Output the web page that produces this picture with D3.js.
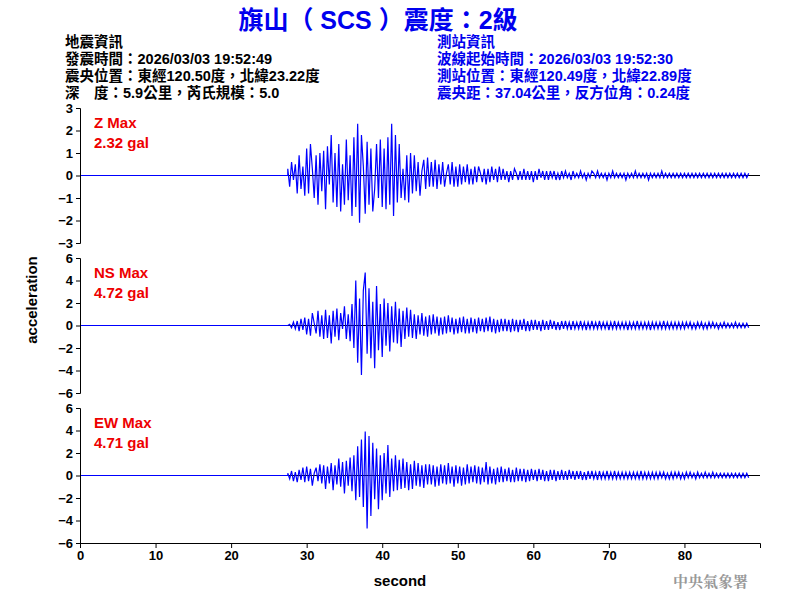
<!DOCTYPE html>
<html>
<head>
<meta charset="utf-8">
<script src="https://cdn.jsdelivr.net/npm/d3@7"></script>
<style>
body { margin: 0; background: #fff; }
text { font-family: "Liberation Sans", Arial, sans-serif; }
.cjk { font-family: "Liberation Sans", "Noto Sans CJK TC", sans-serif; }
</style>
</head>
<body>
<svg id="chart" width="800" height="600"></svg>
<script>
/*** DATA ***/
var startTime = 27.5;   // first sample, seconds
var step = 0.25;        // sample spacing, seconds

var zValues = [
  0.3,-0.5,0.6,-0.2,0.5,-0.8,0.9,-0.6,0.4,-0.9,
  1.2,-0.8,1.4,0.3,-1.0,0.9,-1.3,1.0,
  -0.7,1.1,-1.5,1.3,-0.4,1.8,-1.2,1.0,
  -1.4,1.4,-1.6,0.5,-1.3,1.6,-1.1,0.9,
  -1.8,1.7,-1.4,2.3,-2.1,1.8,0.4,-1.7,
  1.5,-1.3,1.2,-1.6,-0.6,1.4,-1.0,1.6,
  -1.4,1.2,-1.5,1.7,-1.3,2.3,-1.8,1.8,
  -1.2,1.4,-1.0,0.3,-1.1,0.9,-1.2,1.0,
  -0.8,0.9,-0.7,0.6,-0.9,0.2,0.7,-0.6,
  0.8,-0.5,0.6,-0.5,0.7,-0.6,0.5,-0.4,
  0.6,-0.5,0.1,0.5,-0.4,0.6,-0.5,0.4,
  -0.5,0.5,-0.4,0.4,-0.3,0.5,-0.4,0.3,
  -0.4,0.4,-0.3,0.4,0.1,-0.3,0.3,-0.4,
  0.3,-0.3,0.4,-0.2,0.3,-0.3,0.4,-0.2,
  0.3,-0.2,0.2,-0.3,0.2,-0.2,0.3,0.1,-0.2,0.2,-0.2,0.3,-0.2,0.2,-0.2,0.2,
  -0.3,0.2,-0.2,0.3,-0.1,0.2,-0.2,0.2,-0.2,0.2,-0.1,0.2,-0.2,0.1,-0.2,0.2,
  -0.1,0.2,-0.1,0.1,-0.2,0.2,-0.1,0.1,-0.1,0.2,-0.1,0.1,-0.2,0.1,-0.1,0.2,
  0.1,-0.1,0.2,-0.1,0.1,-0.1,0.1,-0.2,0.1,-0.1,0.2,-0.1,0.1,-0.1,0.1,-0.1,
  0.1,-0.2,0.1,-0.1,0.1,-0.1,0.2,-0.1,0.1,-0.1,0.1,-0.1,0.1,-0.2,0.1,-0.1,
  0.1,-0.1,0.1,-0.1,0.2,-0.1,0.1,-0.1,0.1,-0.1,0.1,-0.1,0.1,-0.1,0.1,-0.1,
  0.1,-0.1,0.1,-0.1,0.1,-0.1,0.1,-0.1,0.1,-0.1,0.1,-0.1,0.1,-0.1,0.1,-0.1,
  0.1,-0.1,0.1,-0.1,0.1,-0.1,0.1,-0.1,0.1,-0.1,0.1,-0.1,0.1,-0.1,0.1,-0.1,
  0.1,-0.1,0.1
];

var nsValues = [
  0.0,0.1,-0.2,0.3,-0.3,0.4,-0.5,0.6,-0.4,0.7,
  -0.8,0.6,-0.9,1.1,0.2,-0.7,1.3,-1.0,
  0.9,-1.2,1.4,-1.1,0.9,-1.6,1.3,-1.0,
  1.5,-1.3,1.1,-0.3,1.7,-1.2,1.0,-1.4,
  1.9,-2.0,4.0,-3.3,2.4,-4.4,3.1,4.7,
  -2.5,3.3,-2.9,2.1,-3.8,3.5,-2.2,1.9,
  -2.8,2.4,-1.8,2.0,-2.3,1.7,-1.5,2.1,
  -1.6,1.5,-1.9,1.3,-1.2,1.6,-1.0,1.4,
  -1.1,1.0,-1.2,0.9,-0.8,1.1,-0.9,0.8,
  -1.0,0.9,-0.8,1.0,-0.7,0.8,-0.9,0.7,
  -0.8,0.8,-0.7,0.9,-0.6,0.7,-0.8,0.6,
  -0.7,0.7,-0.6,0.8,-0.7,0.6,-0.7,0.7,
  -0.6,0.6,-0.7,0.7,-0.5,0.6,-0.6,0.7,
  -0.5,0.8,-0.6,0.6,-0.7,0.5,-0.6,0.6,
  -0.5,0.6,-0.5,0.5,-0.6,0.6,-0.5,0.5,-0.6,0.5,-0.4,0.6,-0.5,0.4,-0.5,0.5,
  -0.4,0.5,-0.4,0.4,-0.5,0.5,-0.4,0.4,-0.4,0.5,-0.3,0.4,-0.4,0.3,-0.4,0.4,
  -0.3,0.4,-0.3,0.3,-0.4,0.4,-0.3,0.3,-0.3,0.4,-0.3,0.3,-0.4,0.3,-0.3,0.4,
  -0.3,0.3,-0.3,0.4,-0.3,0.3,-0.3,0.3,-0.4,0.3,-0.3,0.4,-0.3,0.3,-0.3,0.3,
  -0.3,0.3,-0.4,0.3,-0.3,0.3,-0.3,0.4,-0.3,0.3,-0.3,0.3,-0.3,0.3,-0.4,0.3,
  -0.3,0.3,-0.3,0.3,-0.3,0.4,-0.3,0.3,-0.3,0.3,-0.3,0.3,-0.3,0.3,-0.3,0.3,
  -0.3,0.3,-0.2,0.3,-0.3,0.2,-0.3,0.3,-0.2,0.3,-0.3,0.2,-0.3,0.3,-0.2,0.3,
  -0.2,0.2,-0.3,0.2,-0.2,0.3,-0.2,0.2,-0.2,0.2,-0.2,0.3,-0.2,0.2,-0.2,0.2,
  -0.2,0.2,-0.2
];

var ewValues = [
  0.2,-0.3,0.4,-0.5,0.3,-0.6,0.5,-0.4,0.7,-0.6,
  0.8,-0.5,0.6,-0.9,0.2,0.7,-0.5,1.0,
  -0.7,0.9,-1.2,0.8,-0.7,1.1,-1.3,0.9,
  -0.8,1.5,-1.0,1.2,-1.6,1.3,-0.9,1.6,
  -1.4,1.8,-2.2,2.6,-1.9,3.2,-2.8,3.9,
  -4.7,3.5,-3.6,2.9,-2.1,2.4,-3.0,1.8,
  -2.2,2.0,-1.6,2.7,-1.9,1.5,-1.4,1.8,
  -1.3,1.4,-1.2,1.5,-1.1,1.2,-1.3,1.0,
  -1.2,1.3,-0.9,1.1,-1.0,0.9,-1.1,1.0,
  -0.8,1.0,-0.8,0.9,-1.0,0.8,-0.9,1.0,
  -0.7,0.9,-0.8,1.1,-0.7,0.8,-1.0,0.9,
  -0.7,0.8,-0.9,0.7,-0.8,1.0,-0.7,0.8,
  -0.6,0.9,-0.7,0.8,-0.8,0.7,-0.6,1.2,
  -0.8,0.8,-0.7,0.6,-0.8,0.7,-0.6,0.8,
  -0.6,0.6,-0.5,0.7,-0.6,0.5,-0.6,0.7,-0.5,0.6,-0.5,0.6,-0.6,0.5,-0.5,0.6,
  -0.4,0.5,-0.5,0.6,-0.4,0.5,-0.5,0.4,-0.5,0.5,-0.4,0.5,-0.5,0.4,-0.4,0.5,
  -0.4,0.4,-0.4,0.5,-0.3,0.4,-0.4,0.4,-0.3,0.4,-0.4,0.3,-0.4,0.4,-0.3,0.4,
  -0.3,0.3,-0.4,0.4,-0.3,0.3,-0.3,0.4,-0.3,0.3,-0.3,0.4,-0.3,0.3,-0.3,0.3,
  -0.3,0.3,-0.3,0.3,-0.3,0.3,-0.3,0.3,-0.3,0.4,-0.3,0.3,-0.3,0.3,-0.3,0.3,
  -0.3,0.3,-0.3,0.3,-0.2,0.3,-0.3,0.2,-0.3,0.3,-0.3,0.3,-0.2,0.3,-0.3,0.2,
  -0.3,0.3,-0.2,0.3,-0.2,0.2,-0.3,0.3,-0.2,0.2,-0.2,0.3,-0.2,0.2,-0.2,0.3,
  -0.2,0.2,-0.2,0.2,-0.2,0.2,-0.2,0.2,-0.2,0.2,-0.2,0.2,-0.2,0.2,-0.2,0.2,
  -0.2,0.2,-0.2
];

var panelNames = ['Z Max', 'NS Max', 'EW Max'];
var panelPeaks = ['2.32 gal', '4.72 gal', '4.71 gal'];
var panelRanges = [3, 6, 6];
var xTicks = [0, 10, 20, 30, 40, 50, 60, 70, 80];

var quakeInfo = ['地震資訊', '發震時間：2026/03/03 19:52:49', '震央位置：東經120.50度，北緯23.22度', '深　度：5.9公里，芮氏規模：5.0'];
var stationInfo = ['測站資訊', '波線起始時間：2026/03/03 19:52:30', '測站位置：東經120.49度，北緯22.89度', '震央距：37.04公里，反方位角：0.24度'];

/*** SETUP ***/
var svg = d3.select('#chart');
var left = 80, right = 760;
var panelTops = [108, 258, 408], panelHeight = 135;

var x = d3.scaleLinear().domain([0, 90]).range([left, right]);

svg.append('text').attr('class', 'cjk').attr('x', 378).attr('y', 29)
    .attr('text-anchor', 'middle').attr('fill', '#0000ee')
    .style('font-size', '25px').style('font-weight', 'bold')
    .text('旗山（ SCS ）震度：2級');

function infoBlock(lines, xPos, color) {
    svg.append('g').selectAll('text').data(lines).join('text')
        .attr('class', 'cjk').attr('x', xPos).attr('y', function(d, i) { return 47 + i * 17; })
        .attr('fill', color).style('font-size', '14.5px').style('font-weight', 'bold')
        .text(function(d) { return d; });
}
infoBlock(quakeInfo, 65, '#000');
infoBlock(stationInfo, 437, '#0000ee');

/*** PANELS ***/
[zValues, nsValues, ewValues].forEach(function(values, p) {
    var top = panelTops[p], r = panelRanges[p];
    var y = d3.scaleLinear().domain([-r, r]).range([top + panelHeight, top]);
    var g = svg.append('g');

    g.append('line').attr('x1', left).attr('x2', right)
        .attr('y1', y(0)).attr('y2', y(0)).attr('stroke', '#000').attr('stroke-width', 1);

    var pts = [[0, 0], [startTime, 0]].concat(values.map(function(v, i) { return [startTime + i * step, v]; }));
    g.append('path').datum(pts)
        .attr('fill', 'none').attr('stroke', '#0000ff').attr('stroke-width', 1.2)
        .attr('d', d3.line().x(function(d) { return x(d[0]); }).y(function(d) { return y(d[1]); }));

    var yAxis = d3.axisLeft(y).tickValues(d3.range(-r, r + 0.01, r / 3))
        .tickFormat(d3.format('d')).tickSize(4);
    g.append('g').attr('transform', 'translate(' + left + ',0)').call(yAxis)
        .call(function(s) {
            s.selectAll('text').style('font-size', '13px').style('font-weight', 'bold').attr('fill', '#000');
            s.select('.domain').attr('stroke', '#000');
        });

    g.append('text').attr('x', 94).attr('y', top + 20).attr('fill', '#ee0000')
        .style('font-size', '15px').style('font-weight', 'bold').text(panelNames[p]);
    g.append('text').attr('x', 94).attr('y', top + 40).attr('fill', '#ee0000')
        .style('font-size', '15px').style('font-weight', 'bold').text(panelPeaks[p]);
});

var xAxis = d3.axisBottom(x).tickValues(xTicks).tickSize(5);
svg.append('g').attr('transform', 'translate(0,543)').call(xAxis)
    .call(function(s) {
        s.selectAll('text').style('font-size', '13px').style('font-weight', 'bold');
    });

svg.append('text').attr('x', 400).attr('y', 586).attr('text-anchor', 'middle')
    .style('font-size', '15px').style('font-weight', 'bold').text('second');
svg.append('text').attr('transform', 'translate(37,300) rotate(-90)').attr('text-anchor', 'middle')
    .style('font-size', '15px').style('font-weight', 'bold').text('acceleration');
svg.append('text').attr('x', 748).attr('y', 587).attr('text-anchor', 'end')
    .attr('fill', '#999').style('font-size', '15px').style('font-weight', 'bold')
    .style('font-family', '"Noto Serif CJK TC", "Noto Sans CJK TC", serif').text('中央氣象署');
</script>
</body>
</html>
